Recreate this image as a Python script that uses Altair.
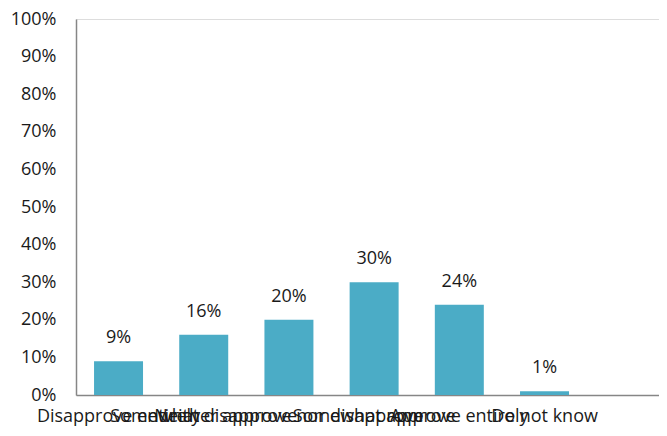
import altair as alt
import pandas as pd

categories = ["Disapprove entirely", "Somewhat disapprove", "Neither approve nor disapprove",
              "Somewhat approve", "Approve entirely", "Do not know"]
values = [0.09, 0.16, 0.20, 0.30, 0.24, 0.01]

df = pd.DataFrame({"category": categories, "value": values})

FONT = "Open Sans"
TEXT = "#1a1a1a"

x = alt.X("category:N", sort=categories,
          scale=alt.Scale(domain=categories, paddingInner=0.425, paddingOuter=0.634, align=0.167),
          axis=alt.Axis(title=None, labelAngle=0, labelOverlap=False, labelLimit=0, ticks=False,
                        domainColor="#868686", domainWidth=1.5, labelFont=FONT, labelFontSize=18,
                        labelColor=TEXT, labelPadding=12))
y = alt.Y("value:Q",
          scale=alt.Scale(domain=[0, 1], nice=False),
          axis=alt.Axis(title=None, format=".0%", values=[i / 10 for i in range(11)], ticks=False,
                        grid=False, domainColor="#868686", domainWidth=1.5, labelFont=FONT,
                        labelFontSize=18, labelColor=TEXT, labelPadding=20))

bars = alt.Chart(df).mark_bar(color="#4BACC6").encode(x=x, y=y)
labels = alt.Chart(df).mark_text(font=FONT, fontSize=18, color=TEXT, baseline="alphabetic", dy=-18).encode(
    x=x, y=y, text=alt.Text("value:Q", format=".0%"))

chart = (bars + labels).properties(
    width=583, height=376,
    autosize=alt.AutoSizeParams(type="none"),
    padding={"left": 68, "top": 11, "right": 0, "bottom": 33},
).configure_view(stroke=None).configure(background="white")

chart.save("out.html", embed_options={"renderer": "svg", "actions": False})
